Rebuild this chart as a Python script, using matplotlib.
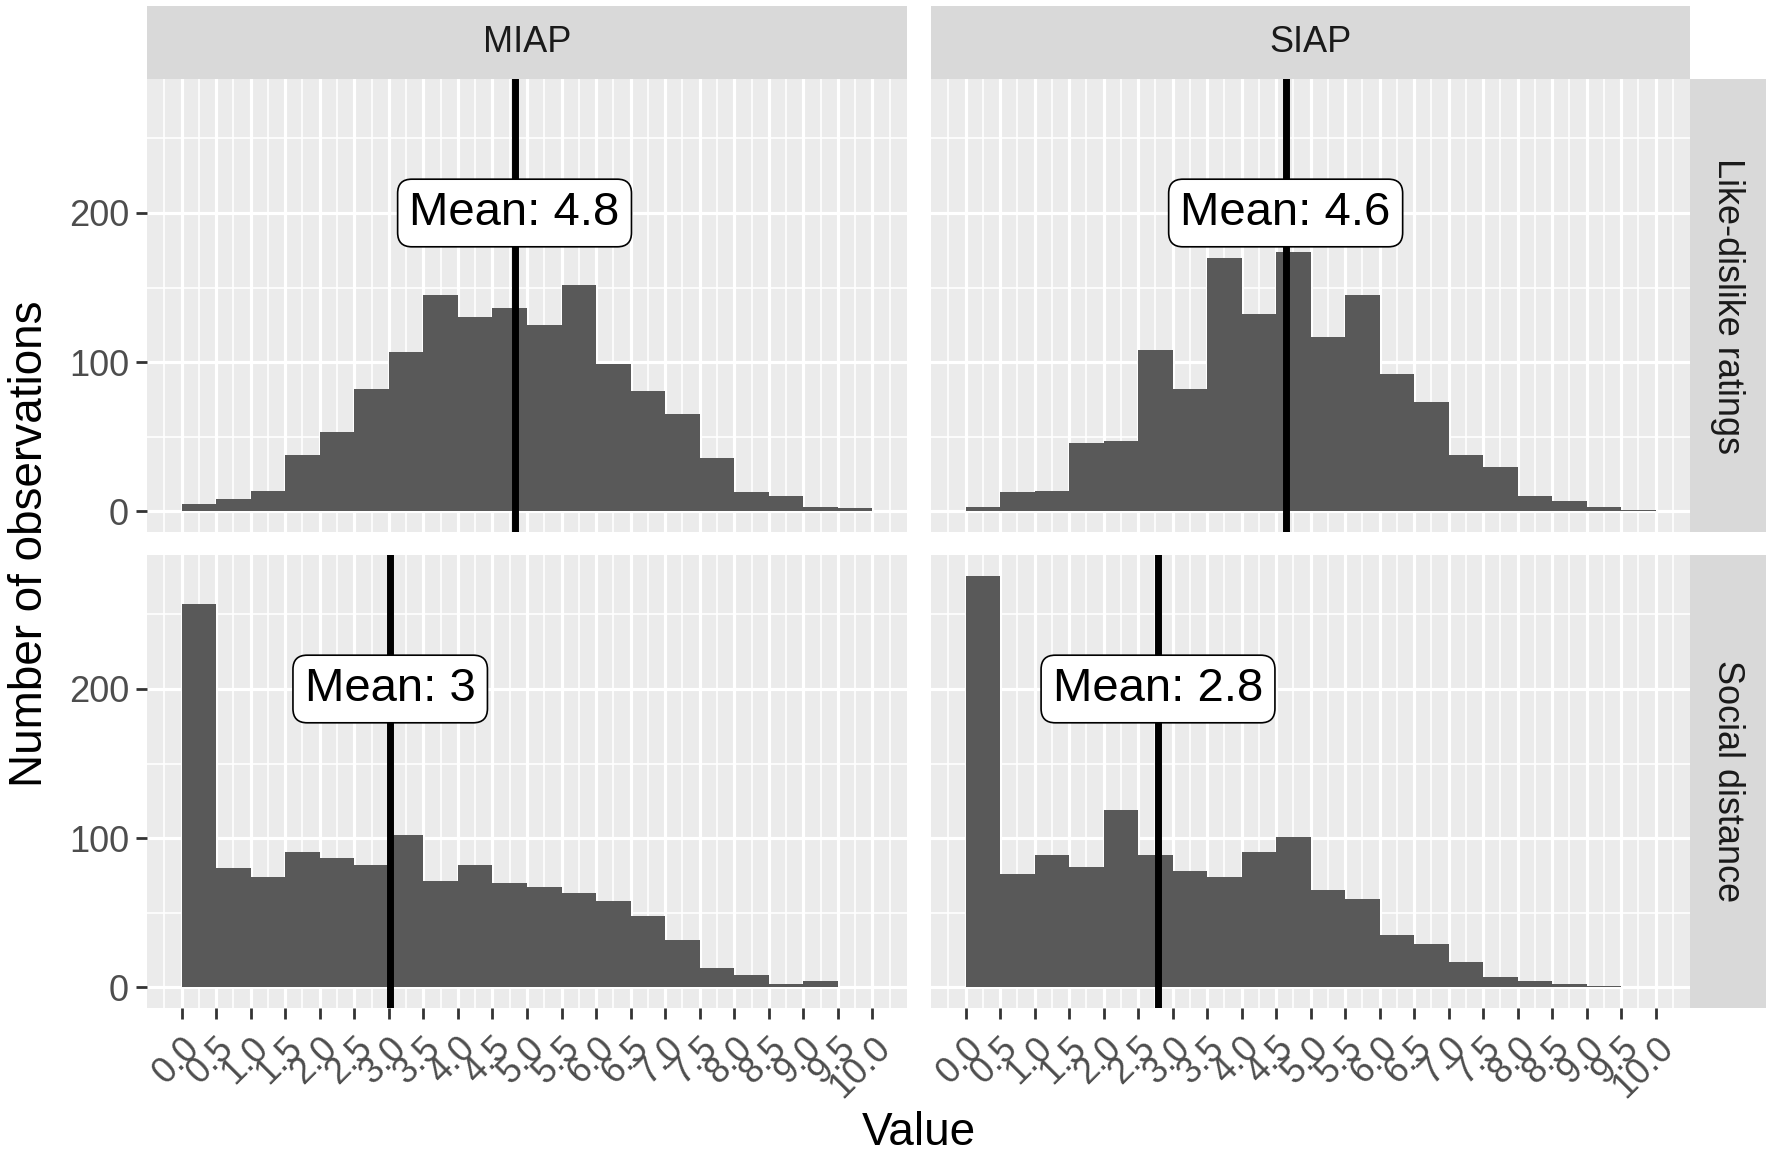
import numpy as np
import matplotlib
matplotlib.use('Agg')
import matplotlib.pyplot as plt

plt.rcParams['font.family'] = ['Liberation Sans', 'DejaVu Sans']

# ---------------- data ----------------
col_labels = ['MIAP', 'SIAP']
row_labels = ['Like-dislike ratings', 'Social distance']
bin_left = np.arange(0.0, 10.0, 0.5)
bin_width = 0.5
x_breaks = np.arange(0.0, 10.01, 0.5)
x_tick_labels = [f'{v:.1f}' for v in x_breaks]
x_minor = np.arange(-0.25, 10.3, 0.5)
y_breaks = [0, 100, 200]
y_minor = [50, 150, 250]

miap_like = [5, 8, 14, 38, 53, 82, 107, 145, 130, 136, 125, 152, 99, 81, 65, 36, 13, 10, 3, 2]
siap_like = [3, 13, 14, 46, 47, 108, 82, 170, 132, 174, 117, 145, 92, 73, 38, 30, 10, 7, 3, 1]
miap_social = [257, 80, 74, 91, 87, 82, 102, 71, 82, 70, 67, 63, 58, 48, 32, 13, 8, 2, 4, 0]
siap_social = [276, 76, 89, 81, 119, 89, 78, 74, 91, 101, 65, 59, 35, 29, 17, 7, 4, 2, 1, 0]

counts = {
    (0, 0): miap_like, (0, 1): siap_like,
    (1, 0): miap_social, (1, 1): siap_social,
}
means = {(0, 0): 4.82, (0, 1): 4.64, (1, 0): 3.02, (1, 1): 2.79}
mean_labels = {(0, 0): 'Mean: 4.8', (0, 1): 'Mean: 4.6',
               (1, 0): 'Mean: 3', (1, 1): 'Mean: 2.8'}
label_y = 200

# ---------------- layout ----------------
W, H = 1772, 1159
fig = plt.figure(figsize=(W / 100, H / 100), dpi=100)

def fx(px):
    return px / W

def fy(py_top, py_bot):
    return 1 - py_bot / H, (py_bot - py_top) / H

col_x = [(147, 907), (931, 1690)]
row_y = [(79, 532), (555, 1008)]
strip_top = (6, 79)
strip_right = (1690, 1766)

ymax = max(max(v) for v in counts.values())
ylim = (-0.05 * ymax, 1.05 * ymax)
xlim = (-0.5, 10.5)

panel_bg = '#EBEBEB'
bar_color = '#595959'
strip_bg = '#D9D9D9'
tick_col = '#4D4D4D'

for r in range(2):
    for c in range(2):
        x0, x1 = col_x[c]
        b, h = fy(*row_y[r])
        ax = fig.add_axes([fx(x0), b, fx(x1 - x0), h])
        ax.set_facecolor(panel_bg)
        for s in ax.spines.values():
            s.set_visible(False)
        ax.set_xlim(*xlim)
        ax.set_ylim(*ylim)
        ax.set_xticks(x_breaks)
        ax.set_xticks(x_minor, minor=True)
        ax.set_yticks(y_breaks)
        ax.set_yticks(y_minor, minor=True)
        ax.grid(which='major', color='white', linewidth=2.3)
        ax.grid(which='minor', color='white', linewidth=1.2)
        ax.set_axisbelow(True)
        ax.tick_params(which='minor', length=0)
        ax.tick_params(which='major', length=8, width=2, color='#333333',
                       labelsize=26, labelcolor=tick_col, pad=5)
        ax.tick_params(axis='x', which='major', pad=8)
        ax.bar(bin_left, counts[(r, c)], width=bin_width, align='edge',
               color=bar_color, linewidth=0, zorder=2)
        ax.axvline(means[(r, c)], color='black', linewidth=5, zorder=3)
        ax.text(means[(r, c)], label_y, mean_labels[(r, c)], fontsize=34,
                ha='center', va='center', zorder=4,
                bbox=dict(boxstyle='round,pad=0.25,rounding_size=0.3',
                          facecolor='white', edgecolor='black', linewidth=1.2))
        if c == 0:
            ax.set_yticklabels([str(v) for v in y_breaks])
        else:
            ax.tick_params(axis='y', which='both', left=False, labelleft=False)
        if r == 1:
            ax.set_xticklabels(x_tick_labels)
            for lab in ax.get_xticklabels():
                lab.set_rotation(45)
                lab.set_ha('right')
                lab.set_va('top')
                lab.set_rotation_mode('anchor')
        else:
            ax.tick_params(axis='x', which='both', bottom=False, labelbottom=False)

# top strips
for c in range(2):
    x0, x1 = col_x[c]
    b, h = fy(*strip_top)
    sax = fig.add_axes([fx(x0), b, fx(x1 - x0), h])
    sax.set_facecolor(strip_bg)
    sax.set_xticks([]); sax.set_yticks([])
    for s in sax.spines.values():
        s.set_visible(False)
    sax.text(0.5, 0.5, col_labels[c], ha='center', va='center',
             fontsize=26, color='#1A1A1A', transform=sax.transAxes)

# right strips
for r in range(2):
    b, h = fy(*row_y[r])
    sax = fig.add_axes([fx(strip_right[0]), b, fx(strip_right[1] - strip_right[0]), h])
    sax.set_facecolor(strip_bg)
    sax.set_xticks([]); sax.set_yticks([])
    for s in sax.spines.values():
        s.set_visible(False)
    sax.text(0.5, 0.5, row_labels[r], ha='center', va='center', rotation=-90,
             fontsize=26, color='#1A1A1A', transform=sax.transAxes)

fig.text(fx((col_x[0][0] + col_x[1][1]) / 2), 1 - 1133 / H, 'Value',
         ha='center', va='center', fontsize=33)
fig.text(fx(30), 1 - ((row_y[0][0] + row_y[1][1]) / 2) / H, 'Number of observations',
         ha='center', va='center', rotation=90, fontsize=33)

fig.savefig('out.png', dpi=100)
